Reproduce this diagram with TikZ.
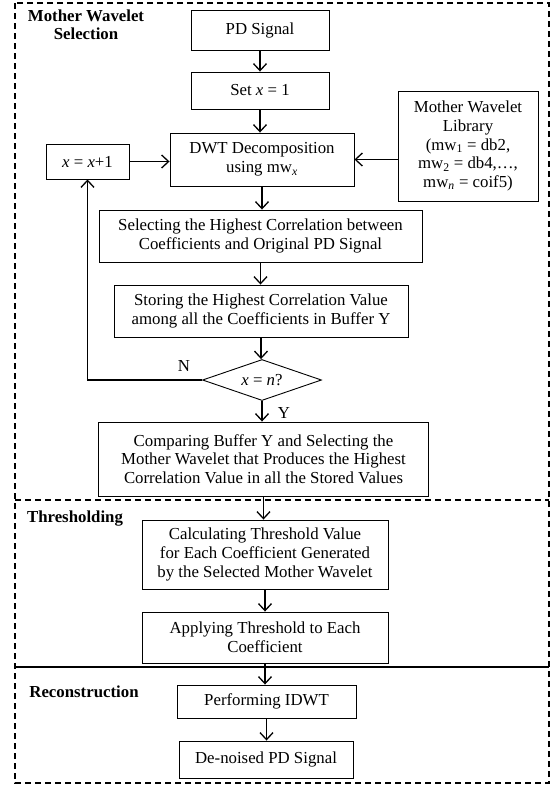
\documentclass[tikz,border=0pt]{standalone}
\usepackage{fontspec}
\setmainfont{Liberation Serif}
\usetikzlibrary{arrows.meta,shapes.geometric}
\begin{document}
\begin{tikzpicture}[x=1pt,y=-1pt,
  box/.style={draw, line width=0.9pt, inner sep=1pt, align=center, font=\fontsize{16.8}{18.6}\selectfont},
  lbl/.style={font=\bfseries\fontsize{16.8}{18}\selectfont, align=center, inner sep=0pt},
  plain/.style={font=\fontsize{16.8}{18}\selectfont, inner sep=0pt},
  arr/.style={line width=1.3pt, -{Straight Barb[length=7pt,width=13pt,line width=1.3pt]}},
  frame/.style={line width=1.1pt, dash pattern=on 6pt off 4pt}]
\useasboundingbox (0,0) rectangle (553,785);
\draw[frame] (15,3) rectangle (549,783);
\draw[frame] (15,500) -- (549,500);
\draw[line width=1.1pt] (15,667) -- (549,667);
\node[lbl] (t1) at (86,25) {Mother Wavelet\\Selection};
\node[lbl] (t2) at (75,519) {Thresholding};
\node[lbl] (t3) at (84,692) {Reconstruction};
\node[box, minimum width=138pt, minimum height=40pt] (pd) at (260,30) {PD Signal};
\node[box, minimum width=138pt, minimum height=37pt] (setx) at (260,90.5) {Set \textit{x} = 1};
\node[box, minimum width=184pt, minimum height=53pt] (dwt) at (262,159.5) {DWT Decomposition\\using mw\textsubscript{\textit{x}}};
\node[box, minimum width=83pt, minimum height=35pt] (inc) at (87.5,161.5) {\textit{x} = \textit{x}+1};
\node[box, minimum width=140pt, minimum height=110pt] (lib) at (468,146) {Mother Wavelet\\Library\\(mw\textsubscript{1} = db2,\\mw\textsubscript{2} = db4,\dots,\\mw\textsubscript{\textit{n}} = coif5)};
\node[box, minimum width=323pt, minimum height=52pt] (sel) at (260.5,236) {Selecting the Highest Correlation between\\Coefficients and Original PD Signal};
\node[box, minimum width=294pt, minimum height=52pt] (sto) at (261,311) {Storing the Highest Correlation Value\\among all the Coefficients in Buffer Y};
\node[box, shape=diamond, aspect=3, inner sep=0pt, minimum width=119pt, minimum height=41pt] (dia) at (262,380) {\textit{x} = \textit{n}?};
\node[box, minimum width=330pt, minimum height=74pt] (comp) at (263.5,459) {Comparing Buffer Y and Selecting the\\Mother Wavelet that Produces the Highest\\Correlation Value in all the Stored Values};
\node[box, minimum width=246pt, minimum height=69pt] (calc) at (265,554.5) {Calculating Threshold Value\\for Each Coefficient Generated\\by the Selected Mother Wavelet};
\node[box, minimum width=246pt, minimum height=51pt] (app) at (265,637.5) {Applying Threshold to Each\\Coefficient};
\node[box, minimum width=179pt, minimum height=33pt] (idwt) at (266.5,701.5) {Performing IDWT};
\node[box, minimum width=174pt, minimum height=37pt] (den) at (266,759.5) {De-noised PD Signal};
\node[plain] (nl) at (184,366) {N};
\node[plain] (yl) at (284,413) {Y};
\draw[arr] (pd.south) -- (pd.south |- setx.north);
\draw[arr] (setx.south) -- (setx.south |- dwt.north);
\draw[arr] (dwt.south) -- (dwt.south |- sel.north);
\draw[arr] (sel.south) -- (sel.south |- sto.north);
\draw[arr] (sto.south) -- (sto.south |- dia.north);
\draw[arr] (dia.south) -- (dia.south |- comp.north);
\draw[arr] (comp.south) -- (comp.south |- calc.north);
\draw[arr] (calc.south) -- (calc.south |- app.north);
\draw[arr] (app.south) -- (app.south |- idwt.north);
\draw[arr] (idwt.south) -- (idwt.south |- den.north);
\draw[arr] (inc.east) -- (inc.east -| dwt.west);
\draw[arr] (lib.west |- dwt.east) -- (dwt.east);
\draw[arr] (dia.west) -| (inc.south);
\end{tikzpicture}
\end{document}
